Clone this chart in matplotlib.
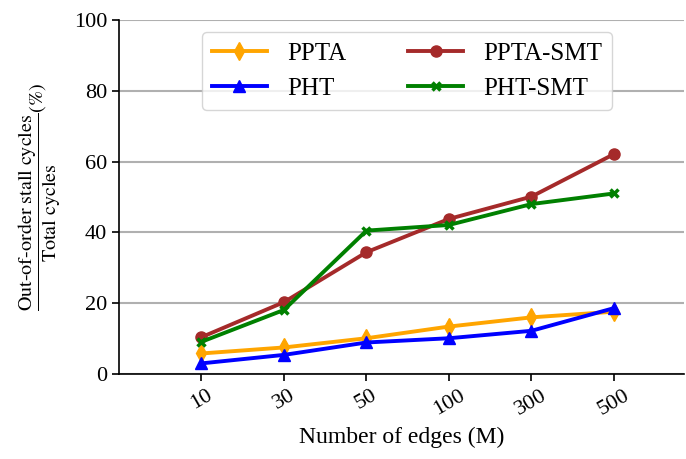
import matplotlib
matplotlib.use("Agg")
import matplotlib.pyplot as plt
import numpy as np

categories = ["10", "30", "50", "100", "300", "500"]
ppta = [5.8, 7.5, 10.1, 13.4, 16.0, 17.6]
pht = [3.0, 5.4, 8.9, 10.1, 12.2, 18.6]
ppta_smt = [10.4, 20.3, 34.4, 43.8, 50.1, 62.1]
pht_smt = [9.1, 18.1, 40.5, 42.1, 48.0, 51.0]

plt.rcParams['font.family'] = ['Liberation Serif', 'DejaVu Serif']
plt.rcParams['mathtext.fontset'] = 'stix'

fig = plt.figure(figsize=(6.86, 4.59), dpi=100)
ax = fig.add_axes([119/686, 1-374/459, (684-119)/686, (374-20)/459])
x = np.arange(len(categories))
ax.plot(x, ppta, color='orange', marker='d', lw=2.8, ms=9, label='PPTA')
ax.plot(x, pht, color='blue', marker='^', lw=2.8, ms=9, label='PHT')
ax.plot(x, ppta_smt, color='#a52a2a', marker='o', lw=2.8, ms=8, label='PPTA-SMT')
ax.plot(x, pht_smt, color='green', marker='x', lw=2.8, ms=6, mew=2.5, label='PHT-SMT')

ax.set_xlim(-1, 5.85)
ax.set_ylim(0, 100)
ax.set_yticks([0, 20, 40, 60, 80, 100])
ax.set_xticks(x)
ax.set_xticklabels(categories, rotation=30)
ax.tick_params(labelsize=16, width=1.2, length=5)
ax.yaxis.grid(True, color='#b0b0b0', lw=1.5)
ax.set_axisbelow(True)
for s in ['top', 'right']:
    ax.spines[s].set_visible(False)
for s in ['left', 'bottom']:
    ax.spines[s].set_linewidth(1.2)

ax.set_xlabel('Number of edges (M)', fontsize=17, labelpad=6)
ax.set_ylabel(r'$\dfrac{\mathrm{Out\text{-}of\text{-}order\ stall\ cycles}}{\mathrm{Total\ cycles}}\left(\%\right)$', fontsize=14.5, labelpad=8)
ax.legend(ncol=2, loc='upper center', fontsize=18, bbox_to_anchor=(0.51, 1.0), handlelength=2.2, columnspacing=2.5)

fig.savefig('out.png', dpi=100)
